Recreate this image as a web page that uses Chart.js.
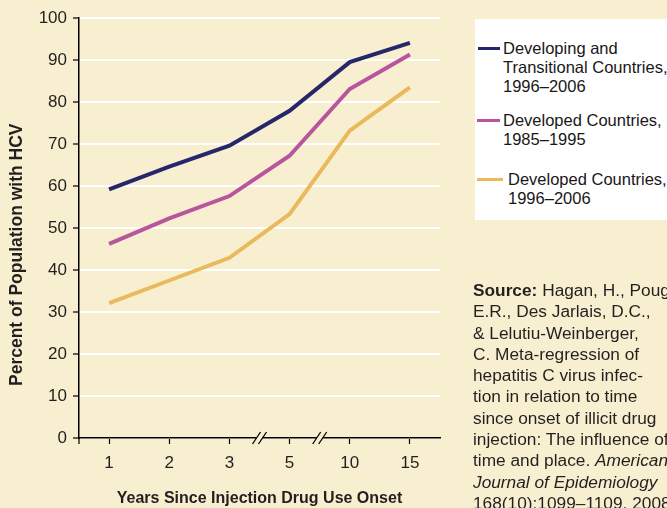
<!DOCTYPE html>
<html>
<head>
<meta charset="utf-8">
<script src="https://cdn.jsdelivr.net/npm/chart.js@4"></script>
<style>
  html, body { margin: 0; padding: 0; }
  body { width: 667px; height: 508px; overflow: hidden; background: #f8efd0; position: relative; }
  #wrap { position: absolute; left: 0; top: 0; width: 667px; height: 508px; }
  #legend { position: absolute; left: 475px; top: 19px; width: 192px; height: 201px; background: #fff;
            font-family: "Liberation Sans", sans-serif; font-size: 16.5px; color: #1a1718; }
  .item { position: absolute; left: 0; line-height: 19px; white-space: nowrap; }
  .swatch { position: absolute; top: 8px; height: 3px; }
  .txt { position: absolute; top: 0; }
  #source { position: absolute; left: 473px; top: 280px; font-family: "Liberation Sans", sans-serif;
            font-size: 17.3px; line-height: 21.3px; color: #231f20; white-space: nowrap; }
</style>
</head>
<body>
<div id="wrap"><canvas id="chart" width="667" height="508"></canvas></div>
<div id="legend"></div>
<div id="source">
  <b>Source:</b> Hagan, H., Pouget,<br>
  E.R., Des Jarlais, D.C.,<br>
  &amp; Lelutiu-Weinberger,<br>
  C. Meta-regression of<br>
  hepatitis C virus infec-<br>
  tion in relation to time<br>
  since onset of illicit drug<br>
  injection: The influence of<br>
  time and place. <i>American</i><br>
  <i>Journal of Epidemiology</i><br>
  168(10):1099–1109, 2008.
</div>
<script>
const ctx = document.getElementById('chart');

const years = ["1", "2", "3", "5", "10", "15"];
const developing = [59.2, 64.6, 69.6, 77.9, 89.5, 94.1];
const developedEarly = [46.2, 52.3, 57.6, 67.2, 83.1, 91.3];
const developedLate = [32.1, 37.5, 42.9, 53.3, 73.2, 83.5];
const yTicks = [0, 10, 20, 30, 40, 50, 60, 70, 80, 90, 100];
const seriesNames = [
  ["Developing and", "Transitional Countries,", "1996–2006"],
  ["Developed Countries,", "1985–1995"],
  ["Developed Countries,", "1996–2006"]
];

const colors = ["#25266b", "#b9559f", "#e9b95b"];

// "//" axis breaks between 3-5 and 5-10, plus the y axis stub below the x axis
const axisBreaks = {
  id: 'axisBreaks',
  afterDraw(chart) {
    const x = chart.scales.x;
    const y0 = chart.chartArea.bottom;
    const c = chart.ctx;
    c.save();
    c.strokeStyle = '#000';
    c.lineWidth = 1.2;
    c.beginPath();
    c.moveTo(chart.chartArea.left, y0);
    c.lineTo(chart.chartArea.left, y0 + 6);
    c.stroke();
    c.restore();
    [[2, 3], [3, 4]].forEach(([a, b]) => {
      const mx = (x.getPixelForValue(a) + x.getPixelForValue(b)) / 2;
      c.save();
      c.fillStyle = '#f8efd0';
      c.beginPath();
      c.moveTo(mx - 5, y0 + 6); c.lineTo(mx - 1, y0 - 6); c.lineTo(mx + 5, y0 - 6); c.lineTo(mx + 1, y0 + 6);
      c.closePath();
      c.fill();
      c.strokeStyle = '#000';
      c.lineWidth = 1.3;
      [-3, 3].forEach(d => {
        c.beginPath();
        c.moveTo(mx + d - 4, y0 + 6);
        c.lineTo(mx + d + 4, y0 - 6);
        c.stroke();
      });
      c.restore();
    });
  }
};

const chart = new Chart(ctx, {
  type: "line",
  data: {
    labels: years,
    datasets: [developing, developedEarly, developedLate].map((d, i) => ({
      label: seriesNames[i].join(' '),
      data: d,
      borderColor: colors[i],
      backgroundColor: colors[i],
      borderWidth: 4,
      pointRadius: 0,
      tension: 0,
      fill: false
    }))
  },
  options: {
    responsive: false,
    animation: false,
    layout: { padding: { top: 18, right: 227, left: 0, bottom: 0 } },
    plugins: {
      legend: { display: false },
      tooltip: { enabled: false }
    },
    scales: {
      x: {
        offset: true,
        grid: { drawOnChartArea: false, drawTicks: true, tickLength: 6, tickColor: '#000', tickWidth: 1.2 },
        border: { color: '#000', width: 1.5 },
        ticks: { color: '#231f20', font: { family: 'Liberation Sans', size: 17 }, padding: 9, maxRotation: 0 },
        title: { display: true, text: 'Years Since Injection Drug Use Onset', color: '#231f20',
                 font: { family: 'Liberation Sans', size: 16, weight: 'bold' }, padding: { top: 13, bottom: 0 } },
        afterFit: s => { s.height = 70; }
      },
      y: {
        min: 0, max: 100,
        afterBuildTicks: s => { s.ticks = yTicks.map(v => ({ value: v })); },
        grid: { color: '#ffffff', lineWidth: 2, tickLength: 6, tickColor: '#000', tickWidth: 1.2 },
        border: { color: '#000', width: 1.5 },
        ticks: { color: '#231f20', font: { family: 'Liberation Sans', size: 17 }, padding: 6 },
        // trailing spaces push the centred title a little lower, as in the original
        title: { display: true, text: 'Percent of Population with HCV           ', color: '#231f20',
                 font: { family: 'Liberation Sans', size: 17.5, weight: 'bold' }, padding: { top: 7, bottom: 4 } },
        afterFit: s => { s.width = 79; }
      }
    }
  },
  plugins: [axisBreaks]
});

// legend built from the chart datasets
const legendTops = [20, 92, 151];
const swatchX = [[3, 25], [2, 25], [2, 28]];
const textX = [28, 28, 33];
const legendEl = document.getElementById('legend');
chart.data.datasets.forEach((ds, i) => {
  const item = document.createElement('div');
  item.className = 'item';
  item.style.top = legendTops[i] + 'px';
  const sw = document.createElement('div');
  sw.className = 'swatch';
  sw.style.left = swatchX[i][0] + 'px';
  sw.style.width = (swatchX[i][1] - swatchX[i][0]) + 'px';
  sw.style.background = ds.borderColor;
  const t = document.createElement('div');
  t.className = 'txt';
  t.style.left = textX[i] + 'px';
  t.innerHTML = seriesNames[i].join('<br>');
  item.appendChild(sw);
  item.appendChild(t);
  legendEl.appendChild(item);
});
</script>
</body>
</html>
